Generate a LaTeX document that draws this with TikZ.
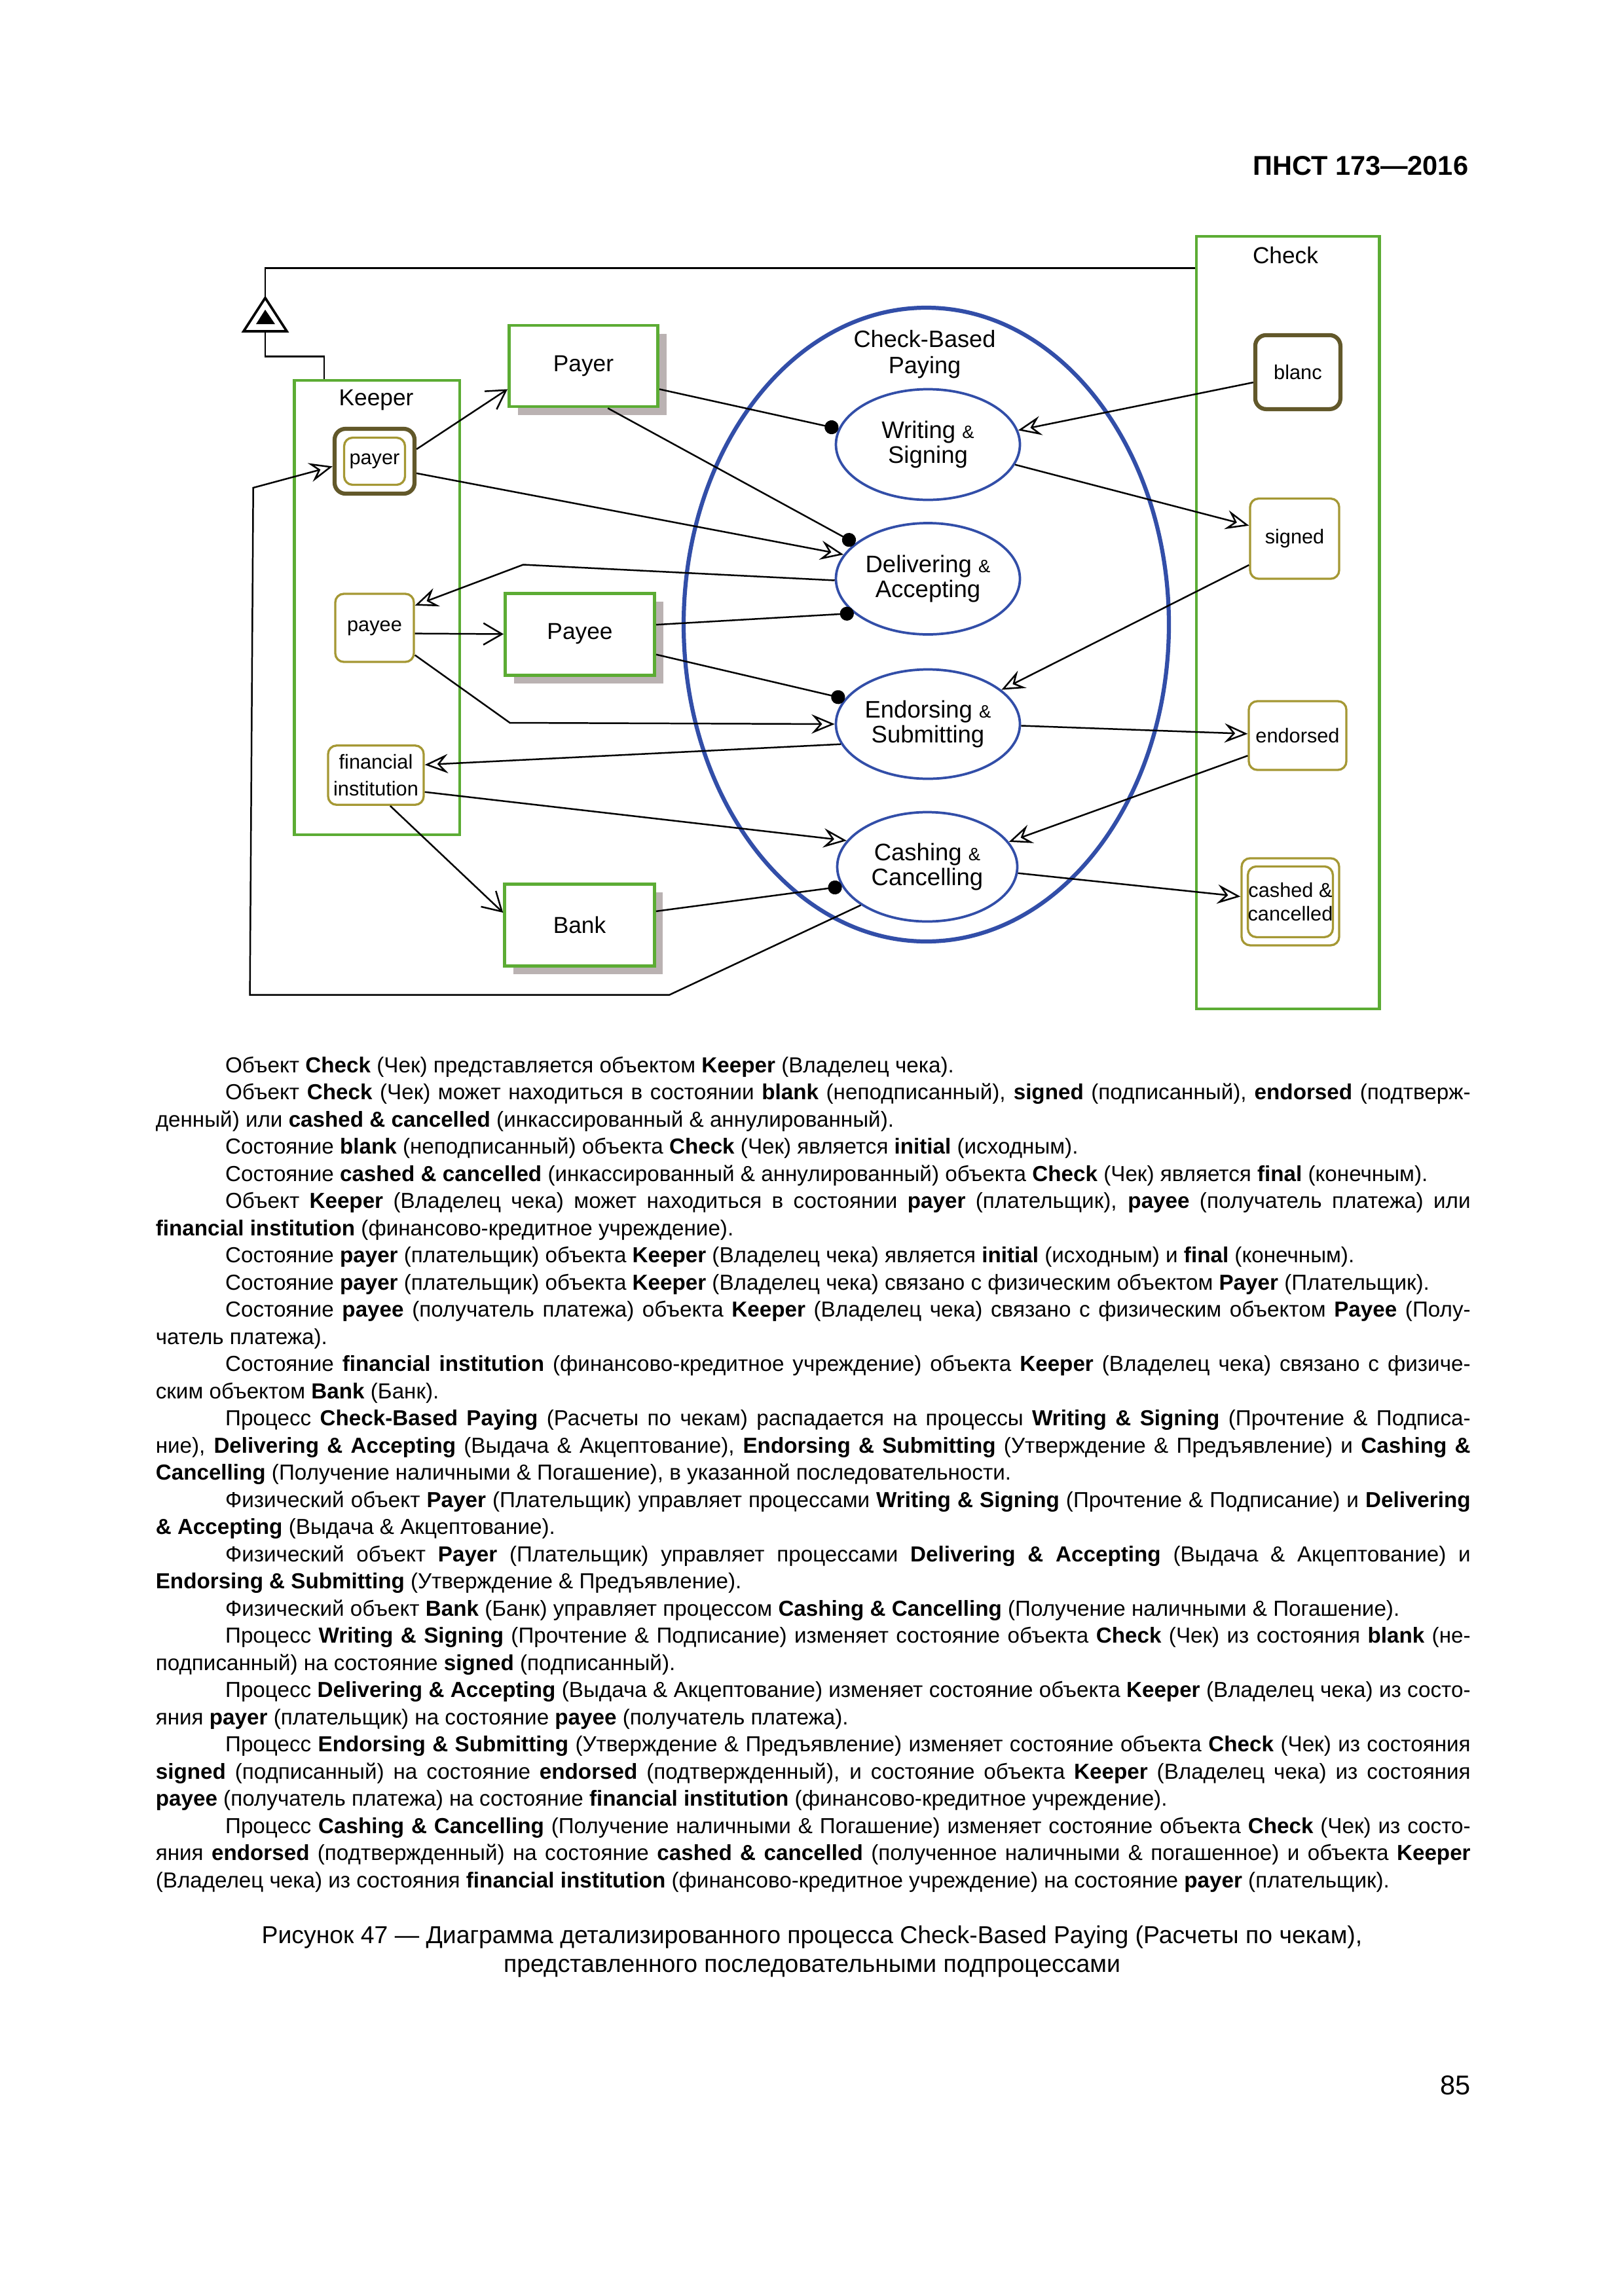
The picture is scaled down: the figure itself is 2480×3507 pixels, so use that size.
\documentclass[tikz,border=0pt]{standalone}
\usepackage{fontspec}
\setmainfont{Liberation Sans}
\usetikzlibrary{arrows.meta,shapes.geometric,shadows}

\newlength\pxu
\setlength\pxu{0.084677mm}
\definecolor{objgreen}{RGB}{92,172,52}
\definecolor{procblue}{RGB}{50,78,168}
\definecolor{stateolive}{RGB}{165,152,52}
\definecolor{statedark}{RGB}{98,88,42}
\definecolor{shadowgray}{RGB}{186,178,178}
\newcommand\smallamp{{\fontsize{6.6}{8}\selectfont\&}}
\newcommand\npar{\par\noindent\hspace*{9mm}}

\tikzset{
    conn/.style={line width=0.6pt},
    trans/.style={conn, -{Stealth[open, length=3mm, width=2.5mm, inset=1.1mm]}},
    agent/.style={conn, -{Circle[length=1.8mm]}},
    physlink/.style={conn, -{Straight Barb[length=2.4mm, width=2.8mm]}},
    objbox/.style={draw=objgreen, line width=1pt, inner sep=0pt},
    lbl/.style={inner sep=0pt, font=\fontsize{8.5}{10}\selectfont},
    physbox/.style={draw=objgreen, line width=1.2pt, fill=white, inner sep=0pt,
        font=\fontsize{8.5}{10}\selectfont,
        drop shadow={shadow xshift=1.1mm, shadow yshift=-1.1mm, fill=shadowgray, opacity=1}},
    statebox/.style={draw=stateolive, line width=0.8pt, rounded corners=1.1mm, fill=white,
        inner sep=0pt, align=center, font=\fontsize{7.4}{8.8}\selectfont},
    initstate/.style={statebox, draw=statedark, line width=1.5pt, rounded corners=1.4mm},
    proc/.style={ellipse, draw=procblue, line width=0.9pt, inner sep=0pt, align=center,
        font=\fontsize{8.8}{9}\selectfont},
}

\begin{document}
\begin{tikzpicture}[x=\pxu, y=-1\pxu]
    \useasboundingbox[fill=white] (0,0) rectangle (2480,3507);
    % Encabezado
    \node[anchor=base east, inner sep=0pt, font=\bfseries\fontsize{10}{12}\selectfont] (hdr) at (2243,267) {ПНСТ 173—2016};

    % Objetos Check y Keeper
    \node[objbox, minimum width=252.5\pxu, minimum height=694.2\pxu] (keeper) at (575.75,927.9) {};
    \node[lbl] (keeperlbl) at (574.5,611) {Keeper};
    \node[objbox, minimum width=279.8\pxu, minimum height=1180.3\pxu] (checkobj) at (1966.6,950.9) {};
    \node[lbl] (checklbl) at (1963,390) {Check};

    % Proceso Check-Based Paying
    \node[ellipse, draw=procblue, line width=1.5pt, inner sep=0pt,
        minimum width=741\pxu, minimum height=968\pxu] (cbp) at (1414.5,954) {};
    \node[lbl, align=center, font=\fontsize{8.7}{9.6}\selectfont] (cbplbl) at (1412,541) {Check-Based\\Paying};
    \node[proc, minimum width=281\pxu, minimum height=169\pxu] (ws) at (1417,679) {Writing \smallamp\\Signing};
    \node[proc, minimum width=281\pxu, minimum height=170\pxu] (da) at (1417,884) {Delivering \smallamp\\Accepting};
    \node[proc, minimum width=281\pxu, minimum height=167\pxu] (es) at (1417,1106) {Endorsing \smallamp\\Submitting};
    \node[proc, minimum width=275\pxu, minimum height=167\pxu] (cc) at (1416,1324) {Cashing \smallamp\\Cancelling};

    % Objetos físicos
    \node[physbox, minimum width=227\pxu, minimum height=124\pxu] (payerobj) at (891,559) {Payer};
    \node[physbox, minimum width=228\pxu, minimum height=125\pxu] (payeeobj) at (885.5,968.5) {Payee};
    \node[physbox, minimum width=228.5\pxu, minimum height=125\pxu] (bank) at (885,1412.5) {Bank};

    % Estados de Keeper
    \node[initstate, minimum width=122\pxu, minimum height=99\pxu] (payer) at (572,704.5) {};
    \node[statebox, minimum width=93\pxu, minimum height=72\pxu] (payerin) at (payer) {payer};
    \node[statebox, minimum width=120\pxu, minimum height=104\pxu] (payee) at (572,959) {payee};
    \node[statebox, minimum width=146\pxu, minimum height=90.5\pxu,
        font=\fontsize{7.4}{9.9}\selectfont] (fininst) at (574,1184) {financial\\institution};

    % Estados de Check
    \node[initstate, minimum width=130\pxu, minimum height=113\pxu] (blanc) at (1981.9,568.4) {blanc};
    \node[statebox, minimum width=136\pxu, minimum height=122.5\pxu] (signed) at (1977,822.8) {signed};
    \node[statebox, minimum width=149\pxu, minimum height=105\pxu] (endorsed) at (1981.5,1123.5) {endorsed};
    \node[statebox, minimum width=149\pxu, minimum height=133\pxu] (cashed) at (1970.5,1377.4) {};
    \node[statebox, minimum width=123.6\pxu, minimum height=108\pxu] (cashedin) at (cashed) {cashed \&\\cancelled};

    % Generalización
    \coordinate (triapex) at (405,455);
    \coordinate (tribase) at (405,506);
    \draw[conn] (keeper.103) -- ++(0,-34.4) -| (tribase);
    \draw[conn] (triapex) |- ([yshift=-51\pxu]checkobj.north west);
    \draw[conn, line width=0.9pt] (triapex) -- (372,506) -- (438,506) -- cycle;
    \fill (405,473) -- (391,495) -- (420,495) -- cycle;

    % Enlaces con objetos físicos
    \draw[physlink] (payer.16) -- (payerobj.197);
    \draw[physlink] (payee.-8) -- (payeeobj.west);
    \draw[physlink] (fininst.-65) -- (bank.171);

    % Agentes
    \draw[agent] (payerobj.-17) -- (ws.170);
    \draw[agent] (payerobj.-60) -- (da.154);
    \draw[agent] (payeeobj.7) -- (da.205);
    \draw[agent] (payeeobj.-15) -- (es.163);
    \draw[agent] (bank.10) -- (cc.193);

    % Transiciones de Check
    \draw[trans] (blanc.193) -- (ws.9);
    \draw[trans] (ws.-13) -- (signed.164);
    \draw[trans] (signed.210) -- (es.25);
    \draw[trans] (es.-1) -- (endorsed.178);
    \draw[trans] (endorsed.202) -- (cc.17);
    \draw[trans] (cc.-4) -- (cashed.174);

    % Transiciones de Keeper
    \coordinate (dabend) at (799,862.5);
    \coordinate (esbend) at (778.6,1104);
    \coordinate (ccbend) at (1022,1519.7);
    \coordinate (ccleft) at (381.6,1519.7);
    \coordinate (cctop) at (386.7,745);
    \draw[trans] (payer.-16) -- (da.164);
    \draw[trans] (da.181) -- (dabend) -- (payee.29);
    \draw[trans] (payee.-34) -- (esbend) -- (es.west);
    \draw[trans] (es.193) -- (fininst.12);
    \draw[trans] (fininst.-19) -- (cc.162);
    \draw[trans] (cc.210) -- (ccbend) -- (ccleft) -- (cctop) -- (payer.187);

    % Texto
    \node[anchor=north west, inner sep=0pt, text width=170mm, align=justify,
        font=\fontsize{8}{10}\selectfont] (bodytext) at (237,1613) {%
        \noindent\hspace*{9mm}Объект \textbf{Check} (Чек) представляется объектом \textbf{Keeper} (Владелец чека).
        \npar Объект \textbf{Check} (Чек) может находиться в состоянии \textbf{blank} (неподписанный), \textbf{signed} (подписанный), \textbf{endorsed} (подтверж-\linebreak денный) или \textbf{cashed \& cancelled} (инкассированный \& аннулированный).
        \npar Состояние \textbf{blank} (неподписанный) объекта \textbf{Check} (Чек) является \textbf{initial} (исходным).
        \npar Состояние \textbf{cashed \& cancelled} (инкассированный \& аннулированный) объекта \textbf{Check} (Чек) является \textbf{final} (конечным).
        \npar Объект \textbf{Keeper} (Владелец чека) может находиться в состоянии \textbf{payer} (плательщик), \textbf{payee} (получатель платежа) или \linebreak \textbf{financial institution} (финансово-кредитное учреждение).
        \npar Состояние \textbf{payer} (плательщик) объекта \textbf{Keeper} (Владелец чека) является \textbf{initial} (исходным) и \textbf{final} (конечным).
        \npar Состояние \textbf{payer} (плательщик) объекта \textbf{Keeper} (Владелец чека) связано с физическим объектом \textbf{Payer} (Плательщик).
        \npar Состояние \textbf{payee} (получатель платежа) объекта \textbf{Keeper} (Владелец чека) связано с физическим объектом \textbf{Payee} (Полу-\linebreak чатель платежа).
        \npar Состояние \textbf{financial institution} (финансово-кредитное учреждение) объекта \textbf{Keeper} (Владелец чека) связано с физиче-\linebreak ским объектом \textbf{Bank} (Банк).
        \npar Процесс \textbf{Check-Based Paying} (Расчеты по чекам) распадается на процессы \textbf{Writing \& Signing} (Прочтение \& Подписа-\linebreak ние), \textbf{Delivering \& Accepting} (Выдача \& Акцептование), \textbf{Endorsing \& Submitting} (Утверждение \& Предъявление) и \textbf{Cashing \&}\linebreak \textbf{Cancelling} (Получение наличными \& Погашение), в указанной последовательности.
        \npar Физический объект \textbf{Payer} (Плательщик) управляет процессами \textbf{Writing \& Signing} (Прочтение \& Подписание) и \textbf{Delivering}\linebreak \textbf{\& Accepting} (Выдача \& Акцептование).
        \npar Физический объект \textbf{Payer} (Плательщик) управляет процессами \textbf{Delivering \& Accepting} (Выдача \& Акцептование) и\linebreak \textbf{Endorsing \& Submitting} (Утверждение \& Предъявление).
        \npar Физический объект \textbf{Bank} (Банк) управляет процессом \textbf{Cashing \& Cancelling} (Получение наличными \& Погашение).
        \npar Процесс \textbf{Writing \& Signing} (Прочтение \& Подписание) изменяет состояние объекта \textbf{Check} (Чек) из состояния \textbf{blank} (не-\linebreak подписанный) на состояние \textbf{signed} (подписанный).
        \npar Процесс \textbf{Delivering \& Accepting} (Выдача \& Акцептование) изменяет состояние объекта \textbf{Keeper} (Владелец чека) из состо-\linebreak яния \textbf{payer} (плательщик) на состояние \textbf{payee} (получатель платежа).
        \npar Процесс \textbf{Endorsing \& Submitting} (Утверждение \& Предъявление) изменяет состояние объекта \textbf{Check} (Чек) из состояния\linebreak \textbf{signed} (подписанный) на состояние \textbf{endorsed} (подтвержденный), и состояние объекта \textbf{Keeper} (Владелец чека) из состояния\linebreak \textbf{payee} (получатель платежа) на состояние \textbf{financial institution} (финансово-кредитное учреждение).
        \npar Процесс \textbf{Cashing \& Cancelling} (Получение наличными \& Погашение) изменяет состояние объекта \textbf{Check} (Чек) из состо-\linebreak яния \textbf{endorsed} (подтвержденный) на состояние \textbf{cashed \& cancelled} (полученное наличными \& погашенное) и объекта \textbf{Keeper}\linebreak (Владелец чека) из состояния \textbf{financial institution} (финансово-кредитное учреждение) на состояние \textbf{payer} (плательщик).\par};

    % Pie de figura
    \node[anchor=north, align=center, inner sep=0pt, font=\fontsize{9}{10.6}\selectfont] (caption) at (1240,2941)
        {Рисунок 47 — Диаграмма детализированного процесса Check-Based Paying (Расчеты по чекам),\\представленного последовательными подпроцессами};
    \node[anchor=base east, font=\fontsize{10}{12}\selectfont, inner sep=0pt] (pagenum) at (2246,3199) {85};
\end{tikzpicture}
\end{document}
